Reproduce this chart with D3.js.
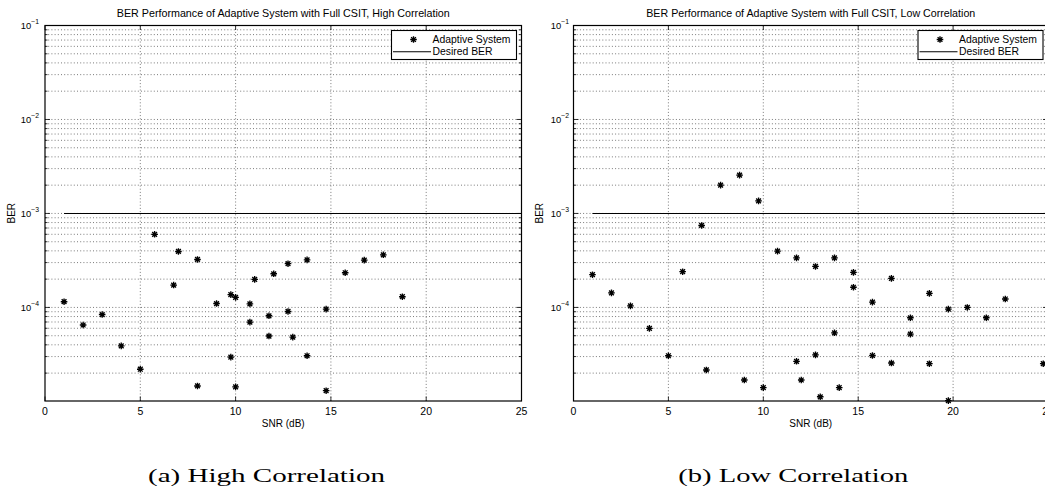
<!DOCTYPE html>
<html>
<head>
<meta charset="utf-8">
<script src="https://cdn.jsdelivr.net/npm/d3@7"></script>
<style>
  html, body { margin: 0; padding: 0; background: #fff; }
  svg { display: block; }
  text { font-family: "Liberation Sans", Arial, Helvetica, sans-serif; fill: #000; }
</style>
</head>
<body>
<svg id="fig" width="1045" height="492"></svg>
<script>
// ---- axis ticks ----
const snrTicks = [0, 5, 10, 15, 20, 25];
const berLabelDecades = [1e-4, 1e-3, 1e-2, 1e-1];
const snrDomain = [0, 25];
const berDomain = [1.01e-5, 1e-1];

// ---- target error rate line ----
const desiredSNR = [1, 25];
const desiredBER = [1e-3, 1e-3];

// ---- (a) high correlation ----
const snrHigh = [1, 2, 3, 4, 5, 5.75, 6.75, 7, 8, 8, 9, 9.75, 9.75, 10, 10, 10.75, 10.75, 11,
  11.75, 11.75, 12, 12.75, 12.75, 13, 13.75, 13.75, 14.75, 14.75, 15.75, 16.75, 17.75, 18.75];
const berHigh = [1.15e-4, 6.5e-5, 8.4e-5, 3.9e-5, 2.2e-5, 6.0e-4, 1.73e-4, 3.94e-4, 3.24e-4, 1.46e-5,
  1.1e-4, 1.37e-4, 2.96e-5, 1.28e-4, 1.43e-5, 1.09e-4, 6.98e-5, 1.99e-4, 8.15e-5, 4.96e-5,
  2.28e-4, 2.92e-4, 9.06e-5, 4.83e-5, 3.21e-4, 3.06e-5, 9.6e-5, 1.3e-5, 2.34e-4, 3.19e-4,
  3.63e-4, 1.3e-4];

// ---- (b) low correlation ----
const snrLow = [1, 2, 3, 4, 5, 5.75, 6.75, 7, 7.75, 8.75, 9, 9.75, 10, 10.75, 11.75, 11.75, 12,
  12.75, 12.75, 13, 13.75, 13.75, 14, 14.75, 14.75, 15.75, 15.75, 16.75, 16.75, 17.75, 17.75,
  18.75, 18.75, 19.75, 19.75, 20.75, 21.75, 22.75, 24.75];
const berLow = [2.23e-4, 1.43e-4, 1.04e-4, 5.98e-5, 3.06e-5, 2.4e-4, 7.45e-4, 2.16e-5, 2.0e-3,
  2.56e-3, 1.69e-5, 1.36e-3, 1.4e-5, 3.97e-4, 3.37e-4, 2.67e-5, 1.69e-5, 2.73e-4, 3.13e-5,
  1.12e-5, 3.37e-4, 5.37e-5, 1.4e-5, 2.36e-4, 1.64e-4, 1.14e-4, 3.08e-5, 2.04e-4, 2.56e-5,
  7.76e-5, 5.2e-5, 1.41e-4, 2.52e-5, 9.6e-5, 1.02e-5, 1.0e-4, 7.76e-5, 1.23e-4, 2.52e-5];

const titles = [
  "BER Performance of Adaptive System with Full CSIT, High Correlation",
  "BER Performance of Adaptive System with Full CSIT, Low Correlation"
];
const captions = ["(a) High Correlation", "(b) Low Correlation"];
const legendLabels = ["Adaptive System", "Desired BER"];

// ---- layout ----
const plotTop = 25.5, plotBottom = 401;
const panels = [
  { left: 45,    right: 521.5, snr: snrHigh, ber: berHigh, title: titles[0], titleLen: 333,
    caption: captions[0], capX: 266.5, capLen: 237, labelGap: 6 },
  { left: 573.5, right: 1048,  snr: snrLow,  ber: berLow,  title: titles[1], titleLen: 329,
    caption: captions[1], capX: 793.3, capLen: 230, labelGap: 4.5 }
];

const svg = d3.select("#fig");

// MATLAB-style '*' marker
function starPath(r) {
  const d = r * 0.72;
  return `M${-r},0H${r}M0,${-r}V${r}M${-d},${-d}L${d},${d}M${-d},${d}L${d},${-d}`;
}
const star = starPath(3.3);

panels.forEach(p => {
  const x = d3.scaleLinear().domain(snrDomain).range([p.left, p.right]);
  const y = d3.scaleLog().domain(berDomain).range([plotBottom, plotTop]);
  const g = svg.append("g");

  const allY = y.ticks();                   // 2..9 x 10^k plus decades
  const minorY = allY.filter(v => Math.abs(Math.log10(v) - Math.round(Math.log10(v))) > 1e-9);
  const majorY = allY.filter(v => !minorY.includes(v));

  // dotted grid
  const grid = g.append("g")
    .attr("stroke", "#333").attr("stroke-width", 0.65)
    .attr("stroke-dasharray", "1,2.2").attr("fill", "none");
  grid.selectAll("line.h").data(allY).join("line")
    .attr("x1", p.left).attr("x2", p.right)
    .attr("y1", d => y(d)).attr("y2", d => y(d));
  grid.selectAll("line.v").data(snrTicks.slice(1, -1)).join("line")
    .attr("x1", d => x(d)).attr("x2", d => x(d))
    .attr("y1", plotTop).attr("y2", plotBottom);

  // inward ticks on all four sides
  const tickG = g.append("g").attr("stroke", "#000").attr("stroke-width", 0.8);
  snrTicks.forEach(v => {
    tickG.append("line").attr("x1", x(v)).attr("x2", x(v)).attr("y1", plotBottom).attr("y2", plotBottom - 4.5);
    tickG.append("line").attr("x1", x(v)).attr("x2", x(v)).attr("y1", plotTop).attr("y2", plotTop + 4.5);
  });
  majorY.forEach(v => {
    tickG.append("line").attr("x1", p.left).attr("x2", p.left + 5).attr("y1", y(v)).attr("y2", y(v));
    tickG.append("line").attr("x1", p.right).attr("x2", p.right - 5).attr("y1", y(v)).attr("y2", y(v));
  });
  minorY.forEach(v => {
    tickG.append("line").attr("x1", p.left).attr("x2", p.left + 2.5).attr("y1", y(v)).attr("y2", y(v));
    tickG.append("line").attr("x1", p.right).attr("x2", p.right - 2.5).attr("y1", y(v)).attr("y2", y(v));
  });

  // desired BER level
  const line = d3.line().x(d => x(d[0])).y(d => y(d[1]));
  g.append("path")
    .datum(d3.zip(desiredSNR, desiredBER))
    .attr("d", line)
    .attr("fill", "none").attr("stroke", "#000").attr("stroke-width", 1.1);

  // axes box
  g.append("rect")
    .attr("x", p.left).attr("y", plotTop)
    .attr("width", p.right - p.left).attr("height", plotBottom - plotTop)
    .attr("fill", "none").attr("stroke", "#000").attr("stroke-width", 1.2);

  // x tick labels
  g.append("g").selectAll("text").data(snrTicks).join("text")
    .attr("x", d => x(d)).attr("y", 414.5)
    .attr("text-anchor", "middle").attr("font-size", 10.5)
    .text(d => d);

  // y tick labels 10^k
  const yl = g.append("g").selectAll("text").data(berLabelDecades).join("text")
    .attr("x", p.left - p.labelGap).attr("y", d => y(d) + 3.3)
    .attr("text-anchor", "end").attr("font-size", 9.4);
  yl.append("tspan").text("10");
  yl.append("tspan").attr("dy", -5).attr("font-size", 6.8)
    .text(d => "\u2212" + Math.round(-Math.log10(d)));

  // axis labels
  g.append("text")
    .attr("x", (p.left + p.right) / 2).attr("y", 427)
    .attr("text-anchor", "middle").attr("font-size", 10)
    .text("SNR (dB)");
  g.append("text")
    .attr("transform", `translate(${p.left - 30.5},${(plotTop + plotBottom) / 2}) rotate(-90)`)
    .attr("text-anchor", "middle").attr("font-size", 10)
    .text("BER");

  // title
  g.append("text")
    .attr("x", (p.left + p.right) / 2).attr("y", 17.3)
    .attr("text-anchor", "middle").attr("font-size", 10.3)
    .attr("textLength", p.titleLen).attr("lengthAdjust", "spacingAndGlyphs")
    .text(p.title);

  // data markers
  g.append("g").selectAll("path").data(d3.zip(p.snr, p.ber)).join("path")
    .attr("transform", d => `translate(${x(d[0])},${y(d[1])})`)
    .attr("d", star)
    .attr("fill", "none").attr("stroke", "#000").attr("stroke-width", 1.35);

  // legend
  const lgW = 125, lgH = 29;
  const lgX = p.right - 5 - lgW, lgY = 30.5;
  const lg = g.append("g");
  lg.append("rect").attr("x", lgX).attr("y", lgY).attr("width", lgW).attr("height", lgH)
    .attr("fill", "#fff").attr("stroke", "#000").attr("stroke-width", 1.1);
  lg.append("path").attr("transform", `translate(${lgX + 22},${lgY + 9})`)
    .attr("d", star).attr("fill", "none").attr("stroke", "#000").attr("stroke-width", 1.35);
  lg.append("line").attr("x1", lgX + 1.5).attr("x2", lgX + 39.5)
    .attr("y1", lgY + 21.3).attr("y2", lgY + 21.3)
    .attr("stroke", "#000").attr("stroke-width", 1.1);
  lg.append("text").attr("x", lgX + 41).attr("y", lgY + 12.3).attr("font-size", 10.4)
    .text(legendLabels[0]);
  lg.append("text").attr("x", lgX + 41).attr("y", lgY + 24.6).attr("font-size", 10.4)
    .text(legendLabels[1]);

  // sub-figure caption
  svg.append("text")
    .attr("x", p.capX).attr("y", 481.5)
    .attr("text-anchor", "middle")
    .style("font-family", "'Liberation Serif','Times New Roman',serif")
    .attr("font-size", 17.8)
    .attr("textLength", p.capLen).attr("lengthAdjust", "spacingAndGlyphs")
    .text(p.caption);
});
</script>
</body>
</html>
